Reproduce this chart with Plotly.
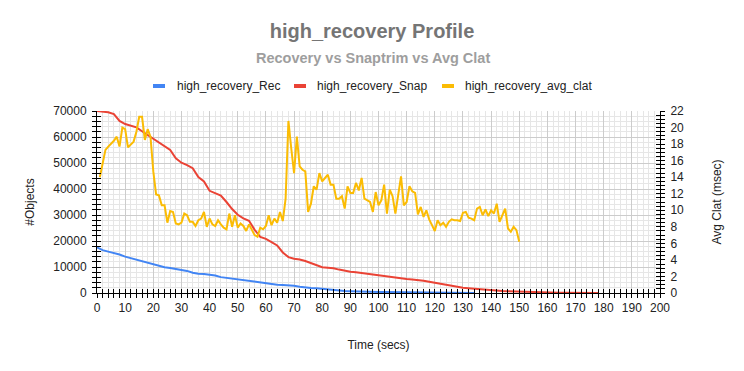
import plotly.graph_objects as go

# ---------------- data ----------------
rec_time = list(range(0, 136, 2))
rec_objects = [17500, 16500, 15900, 15400, 14800, 14000, 13400, 12900, 12400, 11800,
               11200, 10400, 9900, 9600, 9200, 8900, 8500, 7800, 7400, 7300,
               7100, 6700, 6100, 5800, 5600, 5400, 5000, 4600, 4400, 4100,
               3800, 3500, 3200, 3100, 3000, 2800, 2400, 2100, 1900, 1800,
               1600, 1300, 1000, 900, 800, 700, 600, 550, 500, 450,
               420, 400, 380, 350, 320, 300, 260, 220, 200, 170,
               150, 120, 100, 80, 60, 40, 20, 0]

snap_time = list(range(0, 180, 2))
snap_objects = [70000, 69800, 69500, 68800, 66200, 65000, 64300, 63700, 62200, 60700,
                59500, 58000, 56200, 55000, 51800, 50100, 49200, 48000, 44600, 42900,
                39300, 38500, 37500, 35000, 32300, 30100, 28700, 27800, 24300, 21600,
                20800, 19600, 18300, 15600, 13800, 13200, 12900, 12300, 11500, 10600,
                9900, 9700, 9500, 9000, 8500, 8200, 8000, 7700, 7400, 7100,
                6900, 6600, 6300, 5900, 5500, 5400, 5200, 5000, 4700, 4300,
                3900, 3500, 3100, 2800, 2400, 2000, 1800, 1600, 1500, 1300,
                1100, 1000, 800, 700, 600, 500, 400, 300, 250, 200,
                130, 100, 80, 50, 30, 20, 10, 0, 0, 0]

clat_time = list(range(1, 151))
clat_msec = [14.0, 15.5, 17.3, 17.7, 18.0, 18.4, 18.9, 17.7, 20.0, 19.8,
             17.6, 18.0, 18.3, 19.5, 21.3, 21.3, 18.5, 19.8, 18.9, 14.7,
             11.9, 11.8, 10.6, 10.6, 8.5, 9.9, 9.8, 8.4, 8.3, 8.5,
             9.6, 9.4, 8.6, 8.6, 8.1, 8.8, 9.0, 9.8, 8.0, 9.0,
             8.3, 8.1, 8.8, 8.3, 7.9, 7.7, 9.6, 8.0, 9.4, 7.9,
             8.4, 8.1, 7.5, 8.3, 7.7, 7.0, 6.8, 7.9, 7.7, 8.1,
             9.4, 8.2, 9.0, 8.5, 9.8, 8.7, 11.4, 20.8, 17.5, 14.5,
             18.9, 15.3, 14.9, 14.7, 9.8, 10.8, 12.9, 12.5, 14.5, 13.5,
             13.9, 14.3, 13.1, 13.1, 11.4, 11.4, 11.7, 10.2, 12.9, 12.1,
             12.1, 13.3, 12.4, 13.9, 11.4, 11.2, 11.0, 9.8, 12.2, 10.6,
             11.2, 13.1, 9.6, 12.5, 11.7, 9.6, 11.9, 14.1, 10.6, 11.0,
             12.9, 12.3, 12.1, 9.5, 10.4, 9.2, 10.0, 8.9, 8.2, 7.5,
             8.8, 8.2, 8.5, 8.0, 8.6, 8.9, 8.8, 8.8, 8.7, 9.7,
             9.8, 9.1, 9.0, 8.8, 10.2, 10.4, 9.4, 10.1, 9.3, 10.0,
             9.6, 10.8, 8.6, 9.3, 10.2, 7.8, 7.4, 8.0, 7.6, 6.2]

series_names = ["high_recovery_Rec", "high_recovery_Snap", "high_recovery_avg_clat"]
series_colors = ["#4285F4", "#EA4335", "#FBBC04"]
title_text = "high_recovery Profile"
subtitle_text = "Recovery vs Snaptrim vs Avg Clat"

# ---------------- geometry (pixels) ----------------
W, H = 744, 371
L, R, T, B = 97, 660, 111, 293
PW, PH = R - L, B - T


def px_x(px):
    return (px - L) / PW


def px_y(py):
    return (B - py) / PH


FONT = "Arial, Liberation Sans, sans-serif"
fig = go.Figure()
fig.add_trace(go.Scatter(x=rec_time, y=rec_objects, name=series_names[0], mode="lines",
                         line=dict(color=series_colors[0], width=2), yaxis="y", showlegend=False))
fig.add_trace(go.Scatter(x=snap_time, y=snap_objects, name=series_names[1], mode="lines",
                         line=dict(color=series_colors[1], width=2), yaxis="y", showlegend=False))
fig.add_trace(go.Scatter(x=clat_time, y=clat_msec, name=series_names[2], mode="lines",
                         line=dict(color=series_colors[2], width=2), yaxis="y2", showlegend=False))
# invisible helper traces so the mirrored tick axes render
fig.add_trace(go.Scatter(x=[None], y=[None], xaxis="x2", yaxis="y3", showlegend=False, hoverinfo="skip"))
fig.add_trace(go.Scatter(x=[None], y=[None], xaxis="x2", yaxis="y4", showlegend=False, hoverinfo="skip"))

tickfont = dict(family=FONT, size=12, color="#222222")
titlefont = dict(family=FONT, size=12, color="#222222")

# custom legend (Google-chart style short swatches)
legend_sym_x = [153, 294, 442]
legend_text_x = [175, 315, 463]
legend_y = 86
shapes = []
annotations = [dict(text="<b>" + subtitle_text + "</b>", xref="paper", yref="paper",
                    x=px_x(372.5), y=px_y(58), xanchor="center", yanchor="middle",
                    showarrow=False, font=dict(family=FONT, size=14.5, color="#9E9E9E"))]
for name, col, sx, tx in zip(series_names, series_colors, legend_sym_x, legend_text_x):
    shapes.append(dict(type="rect", xref="paper", yref="paper",
                       x0=px_x(sx), x1=px_x(sx + 12), y0=px_y(legend_y + 2), y1=px_y(legend_y - 2),
                       fillcolor=col, line=dict(width=0)))
    annotations.append(dict(text=name, xref="paper", yref="paper", x=px_x(tx), y=px_y(legend_y),
                            xanchor="left", yanchor="middle", showarrow=False,
                            font=dict(family=FONT, size=12, color="#222222")))

fig.update_layout(
    width=W, height=H,
    margin=dict(l=L, r=W - R, t=T, b=H - B, autoexpand=False),
    paper_bgcolor="white", plot_bgcolor="white",
    font=dict(family=FONT, size=12, color="#222222"),
    title=dict(text=title_text, x=0.5, xref="container", xanchor="center",
               y=1 - 31 / H, yref="container", yanchor="middle",
               font=dict(family=FONT, size=20, color="#757575", weight="bold")),
    annotations=annotations,
    shapes=shapes,
    showlegend=False,
    xaxis=dict(range=[0, 200], dtick=10, tick0=0, showgrid=True, gridcolor="#CCCCCC", gridwidth=1,
               ticks="outside", ticklen=4, tickcolor="#000000", tickwidth=1, automargin=False,
               showline=True, linecolor="#000000", linewidth=1, zeroline=False,
               minor=dict(dtick=2, showgrid=True, gridcolor="#E6E6E6", ticks="outside", ticklen=4,
                          tickcolor="#000000"),
               tickfont=tickfont,
               title=dict(text="Time (secs)", font=titlefont, standoff=26)),
    yaxis=dict(range=[0, 70000], dtick=10000, tick0=0, showgrid=True, gridcolor="#CCCCCC",
               ticks="outside", ticklen=4, tickcolor="#000000", tickwidth=1, automargin=False,
               showline=True, linecolor="#000000", linewidth=1, zeroline=False,
               minor=dict(dtick=2000, showgrid=True, gridcolor="#E6E6E6", ticks="outside", ticklen=4,
                          tickcolor="#000000"),
               tickfont=tickfont, tickformat="d", ticklabelstandoff=3,
               title=dict(text="#Objects", font=titlefont, standoff=16)),
    yaxis2=dict(range=[0, 22], dtick=2, tick0=0, overlaying="y", side="right", showgrid=False,
                ticks="outside", ticklen=4, tickcolor="#000000", tickwidth=1, automargin=False,
                showline=True, linecolor="#000000", linewidth=1, zeroline=False,
                minor=dict(dtick=0.5, ticks="outside", ticklen=4, tickcolor="#000000", showgrid=False),
                tickfont=tickfont, ticklabelstandoff=3,
                title=dict(text="Avg Clat (msec)", font=titlefont, standoff=29)),
    # mirrored inside ticks to give the crossing tick look
    xaxis2=dict(range=[0, 200], dtick=10, overlaying="x", side="bottom", anchor="y3", showgrid=False,
                ticks="inside", ticklen=4, tickcolor="#000000", showticklabels=False, showline=False,
                zeroline=False, automargin=False,
                minor=dict(dtick=2, ticks="inside", ticklen=4, tickcolor="#000000")),
    yaxis3=dict(range=[0, 70000], dtick=10000, overlaying="y", side="left", anchor="x2", showgrid=False,
                ticks="inside", ticklen=4, tickcolor="#000000", showticklabels=False, showline=False,
                zeroline=False, automargin=False,
                minor=dict(dtick=2000, ticks="inside", ticklen=4, tickcolor="#000000")),
    yaxis4=dict(range=[0, 22], dtick=2, overlaying="y", side="right", anchor="x2", showgrid=False,
                ticks="inside", ticklen=4, tickcolor="#000000", showticklabels=False, showline=False,
                zeroline=False, automargin=False,
                minor=dict(dtick=0.5, ticks="inside", ticklen=4, tickcolor="#000000")),
)

fig.write_html("out.html", config={"displayModeBar": False},
               post_script="document.body.style.margin='0px';")
